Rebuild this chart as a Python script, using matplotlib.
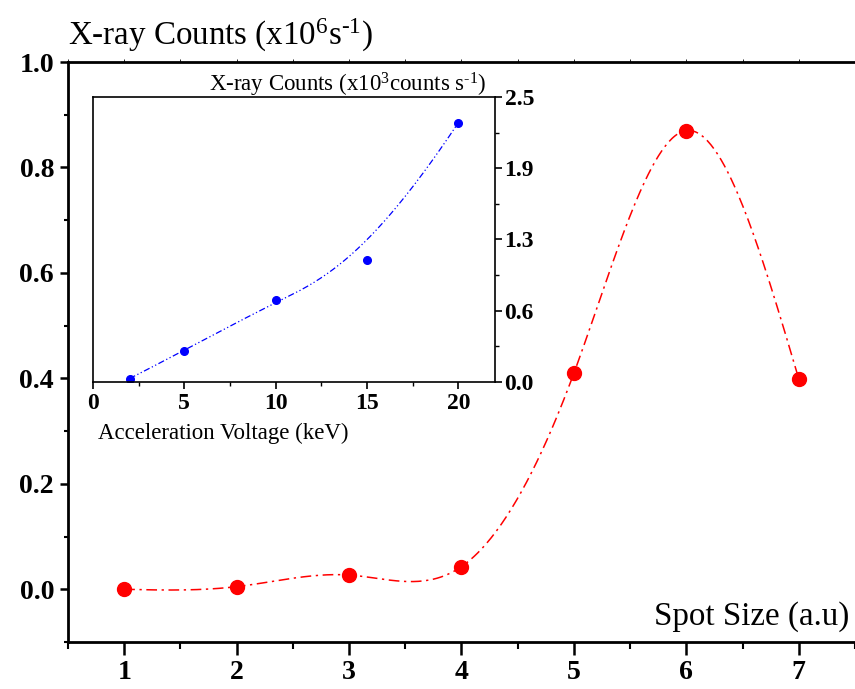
import numpy as np
import matplotlib
matplotlib.use("Agg")
from matplotlib import pyplot as plt
from matplotlib.ticker import MultipleLocator, FixedLocator, FixedFormatter

plt.rcParams["font.family"] = ["Liberation Serif", "DejaVu Serif"]
plt.rcParams["mathtext.fontset"] = "custom"
plt.rcParams["mathtext.rm"] = "Liberation Serif"
plt.rcParams["mathtext.it"] = "Liberation Serif:italic"
plt.rcParams["mathtext.bf"] = "Liberation Serif:bold"

# spot size scan
spot_size = [1, 2, 3, 4, 5, 6, 7]
counts_spot = [0.0, 0.005, 0.027, 0.043, 0.41, 0.87, 0.399]

# acceleration voltage scan
voltage = [2, 5, 10, 15, 20]
counts_voltage = [0.03, 0.275, 0.717, 1.07, 2.275]

inset_yticks = [0.0, 0.625, 1.25, 1.875, 2.5]
inset_ylabels = ["0.0", "0.6", "1.3", "1.9", "2.5"]


def natural_spline(x, y, num=400):
    x = np.asarray(x, float)
    y = np.asarray(y, float)
    n = len(x)
    h = np.diff(x)
    A = np.zeros((n, n))
    b = np.zeros(n)
    A[0, 0] = A[-1, -1] = 1.0
    for i in range(1, n - 1):
        A[i, i - 1] = h[i - 1]
        A[i, i] = 2 * (h[i - 1] + h[i])
        A[i, i + 1] = h[i]
        b[i] = 3 * ((y[i + 1] - y[i]) / h[i] - (y[i] - y[i - 1]) / h[i - 1])
    c = np.linalg.solve(A, b)
    xs = np.linspace(x[0], x[-1], num)
    idx = np.clip(np.searchsorted(x, xs) - 1, 0, n - 2)
    dx = xs - x[idx]
    bb = (y[idx + 1] - y[idx]) / h[idx] - h[idx] * (c[idx + 1] + 2 * c[idx]) / 3
    d = (c[idx + 1] - c[idx]) / (3 * h[idx])
    ys = y[idx] + bb * dx + c[idx] * dx ** 2 + d * dx ** 3
    return xs, ys


def bspline(x, y, degree=3, num=400):
    # clamped B-spline using the points as control points
    pts = np.column_stack([x, y]).astype(float)
    n = len(pts)
    inner = np.linspace(0, 1, n - degree + 1)
    knots = np.concatenate([[0] * degree, inner, [1] * degree])
    ts = np.linspace(0, 1, num)
    out = []
    for t in ts:
        if t >= 1:
            out.append(pts[-1])
            continue
        k = np.searchsorted(knots, t, side="right") - 1
        d = [pts[j + k - degree].copy() for j in range(degree + 1)]
        for r in range(1, degree + 1):
            for j in range(degree, r - 1, -1):
                i = j + k - degree
                a = (t - knots[i]) / (knots[i + 1 + degree - r] - knots[i])
                d[j] = (1 - a) * d[j - 1] + a * d[j]
        out.append(d[degree])
    out = np.array(out)
    return out[:, 0], out[:, 1]


fig = plt.figure(figsize=(8.55, 6.89), dpi=100)

ax = fig.add_axes([0.0795, 0.0682, 0.9205, 0.8418])
xs, ys = natural_spline(spot_size, counts_spot)
ax.plot(xs, ys, color="red", lw=1.1, dashes=(7, 3, 1.5, 3))
ax.plot(spot_size, counts_spot, "o", color="red", ms=10, mec="red")
ax.set_xlim(0.5, 7.5)
ax.set_ylim(-0.1, 1.0)
ax.spines["right"].set_visible(False)
for s in ["left", "bottom", "top"]:
    ax.spines[s].set_linewidth(2.0)
ax.xaxis.set_major_locator(MultipleLocator(1))
ax.xaxis.set_minor_locator(MultipleLocator(0.5))
ax.yaxis.set_major_locator(MultipleLocator(0.2))
ax.yaxis.set_minor_locator(MultipleLocator(0.1))
ax.yaxis.set_major_formatter(plt.FormatStrFormatter("%.1f"))
ax.tick_params(axis="x", which="major", direction="out", length=9, width=1.8,
               labelsize=20, pad=4)
ax.tick_params(axis="x", which="minor", direction="out", length=5, width=1.5)
ax.tick_params(axis="y", which="major", direction="out", length=6, width=1.8,
               labelsize=20, pad=4)
ax.tick_params(axis="y", which="minor", direction="out", length=3, width=1.5)
ax.tick_params(axis="x", which="both", top=True, labeltop=False)
for t in ax.xaxis.get_major_ticks() + ax.xaxis.get_minor_ticks():
    t.tick2line.set_markersize(2)
    t.tick2line.set_color("0.5")
    t.tick2line.set_markeredgewidth(0.6)
for lab in ax.get_xticklabels() + ax.get_yticklabels():
    lab.set_fontweight("bold")

fig.text(0.0795, 0.949, "X-ray Counts (x10$^{6}$s$^{\u2010 1}$)", fontsize=23.8,
         ha="left", va="center")
fig.text(0.994, 0.1045, "Spot Size (a.u)", fontsize=23.8, ha="right", va="center")

axin = fig.add_axes([0.1088, 0.4456, 0.470, 0.4136])
vx, vy = bspline(voltage, counts_voltage)
axin.plot(vx, vy, color="blue", lw=0.9, dashes=(5, 2, 1, 2, 1, 2))
axin.plot(voltage, counts_voltage, "o", color="blue", ms=5.5)
axin.set_xlim(0, 22)
axin.set_ylim(0, 2.5)
for s in axin.spines.values():
    s.set_linewidth(1.2)
axin.xaxis.set_major_locator(MultipleLocator(5))
axin.xaxis.set_minor_locator(MultipleLocator(2.5))
axin.yaxis.set_major_locator(FixedLocator(inset_yticks))
axin.yaxis.set_major_formatter(FixedFormatter(inset_ylabels))
axin.yaxis.set_minor_locator(MultipleLocator(0.3125))
axin.yaxis.tick_right()
axin.tick_params(axis="y", which="major", direction="out", length=5, width=1.2,
                 labelsize=17, pad=2)
axin.tick_params(axis="y", which="minor", direction="out", length=3, width=1.0)
axin.tick_params(axis="x", which="major", direction="out", length=5, width=1.2,
                 labelsize=17, pad=3)
axin.tick_params(axis="x", which="minor", direction="out", length=3, width=1.0)
for lab in axin.get_xticklabels() + axin.get_yticklabels():
    lab.set_fontweight("bold")

axin.text(0.012, -0.179, "Acceleration Voltage (keV)", transform=axin.transAxes,
          fontsize=16.5, ha="left", va="center")
axin.text(0.98, 1.042, "X-ray Counts (x10$^{3}$counts s$^{\u2010 1}$)",
          transform=axin.transAxes, fontsize=16.5, ha="right", va="center")

fig.savefig("out.png", dpi=100)
